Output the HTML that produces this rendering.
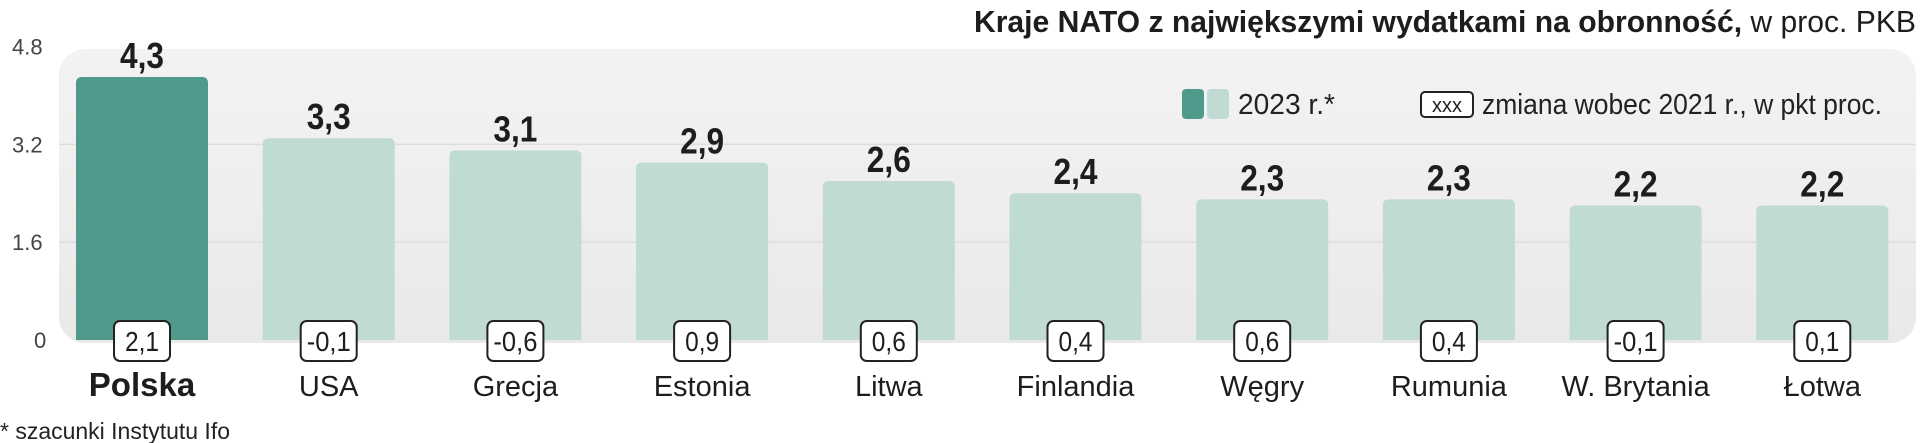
<!DOCTYPE html>
<html><head><meta charset="utf-8"><style>
html,body{margin:0;padding:0;background:#fff;width:1920px;height:443px;overflow:hidden}
svg{display:block}
.n{font-family:"Liberation Sans Narrow","Liberation Sans",sans-serif}
</style></head><body>
<svg id="chart" width="1920" height="443">
<defs><linearGradient id="pg" x1="0" y1="0" x2="0" y2="1"><stop offset="0" stop-color="#f3f3f3"/><stop offset="1" stop-color="#e9e9e8"/></linearGradient></defs>
<rect x="59" y="49" width="1857" height="294" rx="26" fill="url(#pg)"/>
<text x="1916" y="32" text-anchor="end" class="n" font-size="31" fill="#1d1d1d" textLength="942" lengthAdjust="spacingAndGlyphs"><tspan font-weight="bold">Kraje NATO z największymi wydatkami na obronność,</tspan> w proc. PKB</text>
<g>
<rect x="1182" y="89" width="22" height="30" rx="4" fill="#4f9a8d"/>
<rect x="1207" y="89" width="22" height="30" rx="4" fill="#c0dbd4"/>
<text x="1238" y="114" class="n" font-size="29" fill="#222" textLength="97" lengthAdjust="spacingAndGlyphs">2023 r.*</text>
<rect x="1421" y="92" width="52" height="25" rx="4" fill="#fff" stroke="#222" stroke-width="2"/>
<text x="1447" y="112" text-anchor="middle" class="n" font-size="20" fill="#222">xxx</text>
<text x="1482" y="114" class="n" font-size="29" fill="#222" textLength="400" lengthAdjust="spacingAndGlyphs">zmiana wobec 2021 r., w pkt proc.</text>
</g>
<g id="grid"></g><g id="bars"></g>
<text x="0" y="439" class="n" font-size="23" fill="#222" textLength="230" lengthAdjust="spacingAndGlyphs">* szacunki Instytutu Ifo</text>
</svg>
<script>
const categories=["Polska","USA","Grecja","Estonia","Litwa","Finlandia","Węgry","Rumunia","W. Brytania","Łotwa"];
const values=[4.3,3.3,3.1,2.9,2.6,2.4,2.3,2.3,2.2,2.2];
const valueLabels=["4,3","3,3","3,1","2,9","2,6","2,4","2,3","2,3","2,2","2,2"];
const changes=["2,1","-0,1","-0,6","0,9","0,6","0,4","0,6","0,4","-0,1","0,1"];
const ticks=[0,1.6,3.2,4.8];
const tickLabels=["0","1.6","3.2","4.8"];
const NS="http://www.w3.org/2000/svg";
const y=v=>340-v*61.15;
const xc=i=>142+i*186.7;
function mk(t,a,p,txt){const e=document.createElementNS(NS,t);for(const k in a)e.setAttribute(k,a[k]);if(txt!=null)e.textContent=txt;p.appendChild(e);return e;}
const G=document.getElementById('grid'),B=document.getElementById('bars');
ticks.forEach((t,i)=>{
 if(t>0&&t<4.8){const l=mk('line',{x1:59,x2:1916,y1:y(t),y2:y(t),stroke:'#dddddd','stroke-width':1.5},G);
 
 }
 const tx=mk('text',{x:t===0?34:12,y:y(t)+8,'class':'n','font-size':22,fill:'#444'},G,tickLabels[i]);
 
 
});
categories.forEach((c,i)=>{
 const cx=xc(i),top=y(values[i]);
 const r=mk('path',{d:`M${cx-66},340 V${top+6} Q${cx-66},${top} ${cx-60},${top} H${cx+60} Q${cx+66},${top} ${cx+66},${top+6} V340 Z`,fill:i===0?'#4f9a8d':'#c0dbd4'},B);
 
 
 const v=mk('text',{x:cx,y:top-9,'text-anchor':'middle','class':'n','font-size':36,'font-weight':'bold',fill:'#1d1d1d',textLength:44,lengthAdjust:'spacingAndGlyphs'},B,valueLabels[i]);
 
 
 const bx=mk('rect',{x:cx-28,y:321,width:56,height:40,rx:6,fill:'#fff',stroke:'#222','stroke-width':2},B);
 
 
 const ct=mk('text',{x:cx,y:351,'text-anchor':'middle','class':'n','font-size':28,fill:'#1d1d1d',textLength:changes[i].length>3?44:34,lengthAdjust:'spacingAndGlyphs'},B,changes[i]);
 
 
 const cl=mk('text',{x:cx,y:396,'text-anchor':'middle','class':'n','font-size':i===0?33:29,'font-weight':i===0?'bold':'normal',fill:'#1d1d1d'},B,c);
 
 
});
</script>
</body></html>
